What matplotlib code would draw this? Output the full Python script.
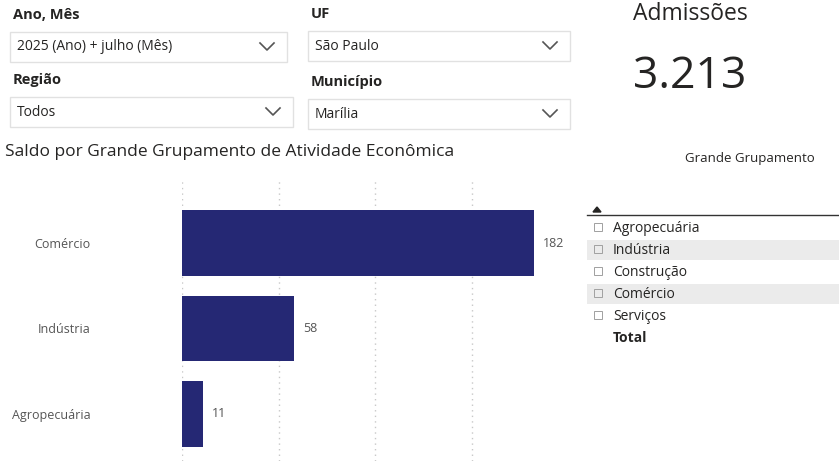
import matplotlib.pyplot as plt
from matplotlib.patches import Rectangle, Polygon

plt.rcParams["font.family"] = "Open Sans"

# dados
categorias = ["Agropecuária", "Indústria", "Comércio"]
saldo = [11, 58, 182]
tabela_itens = ["Agropecuária", "Indústria", "Construção", "Comércio", "Serviços"]
tabela_cinza = ["Indústria", "Comércio"]
admissoes = "3.213"

W, H = 839, 461
fig = plt.figure(figsize=(W / 100, H / 100), dpi=100)

# camada de fundo em pixels
bg = fig.add_axes([0, 0, 1, 1])
bg.set_xlim(0, W)
bg.set_ylim(H, 0)
bg.axis("off")

def slicer(x, y, label, valor, w):
    bg.text(x + 3, y - 17, label, fontsize=10.5, fontweight="bold", color="#252423", va="center")
    bg.add_patch(Rectangle((x, y), w, 30, fill=False, ec="#e1e1e1", lw=1))
    bg.text(x + 7, y + 15, valor, fontsize=10, color="#252423", va="center")
    cx = x + w - 20
    bg.plot([cx - 7, cx, cx + 7], [y + 11, y + 18, y + 11], color="#555555", lw=1.2)

slicer(10, 32, "Ano, Mês", "2025 (Ano) + julho (Mês)", 277)
slicer(308, 31, "UF", "São Paulo", 262)
slicer(10, 97, "Região", "Todos", 283)
slicer(308, 99, "Município", "Marília", 262)

bg.text(633, 14, "Admissões", fontsize=16.5, color="#252423", va="center")
bg.text(633, 77, admissoes, fontsize=32, color="#252423", va="center")

bg.text(5, 152, "Saldo por Grande Grupamento de Atividade Econômica", fontsize=12.5, color="#252423", va="center")

# tabela
bg.text(750, 158, "Grande Grupamento", fontsize=9.5, color="#252423", va="center", ha="center")
bg.plot([587, 839], [215, 215], color="#333333", lw=1)
bg.add_patch(Polygon([[593, 212], [601, 212], [597, 207]], color="#252423"))
for i, item in enumerate(tabela_itens):
    yy = 228 + 22 * i
    if item in tabela_cinza:
        bg.add_patch(Rectangle((587, yy - 10), 252, 20, color="#ebebeb", lw=0))
    bg.add_patch(Rectangle((594, yy - 5), 8, 8, fill=False, ec="#a0a0a0", lw=0.7))
    bg.text(613, yy, item, fontsize=10, color="#252423", va="center")
bg.text(613, 338, "Total", fontsize=10, fontweight="bold", color="#252423", va="center")

# gráfico de barras
x0, x1 = 182, 182 + 200 * 352 / 182
y_top, y_bot = 180, 461
ax = fig.add_axes([x0 / W, 0, (x1 - x0) / W, (y_bot - y_top) / H])
pos = list(range(len(categorias)))
ax.barh(pos, saldo, height=0.77, color="#252874", zorder=3)
ax.set_xlim(0, 200)
ax.set_ylim(-0.55, 2.737)
ax.set_xticks([0, 50, 100, 150])
ax.grid(axis="x", color="#c8c8c8", linestyle=(0, (1, 3)), lw=1)
ax.tick_params(axis="x", length=0, labelbottom=False)
ax.set_yticks(pos)
ax.set_yticklabels(categorias, fontsize=9, color="#555555")
ax.tick_params(axis="y", length=0, pad=66)
for s in ax.spines.values():
    s.set_visible(False)
for p, v in zip(pos, saldo):
    ax.text(v + 4.5, p, str(v), fontsize=9, color="#555555", va="center")

fig.savefig("out.png", dpi=100)
